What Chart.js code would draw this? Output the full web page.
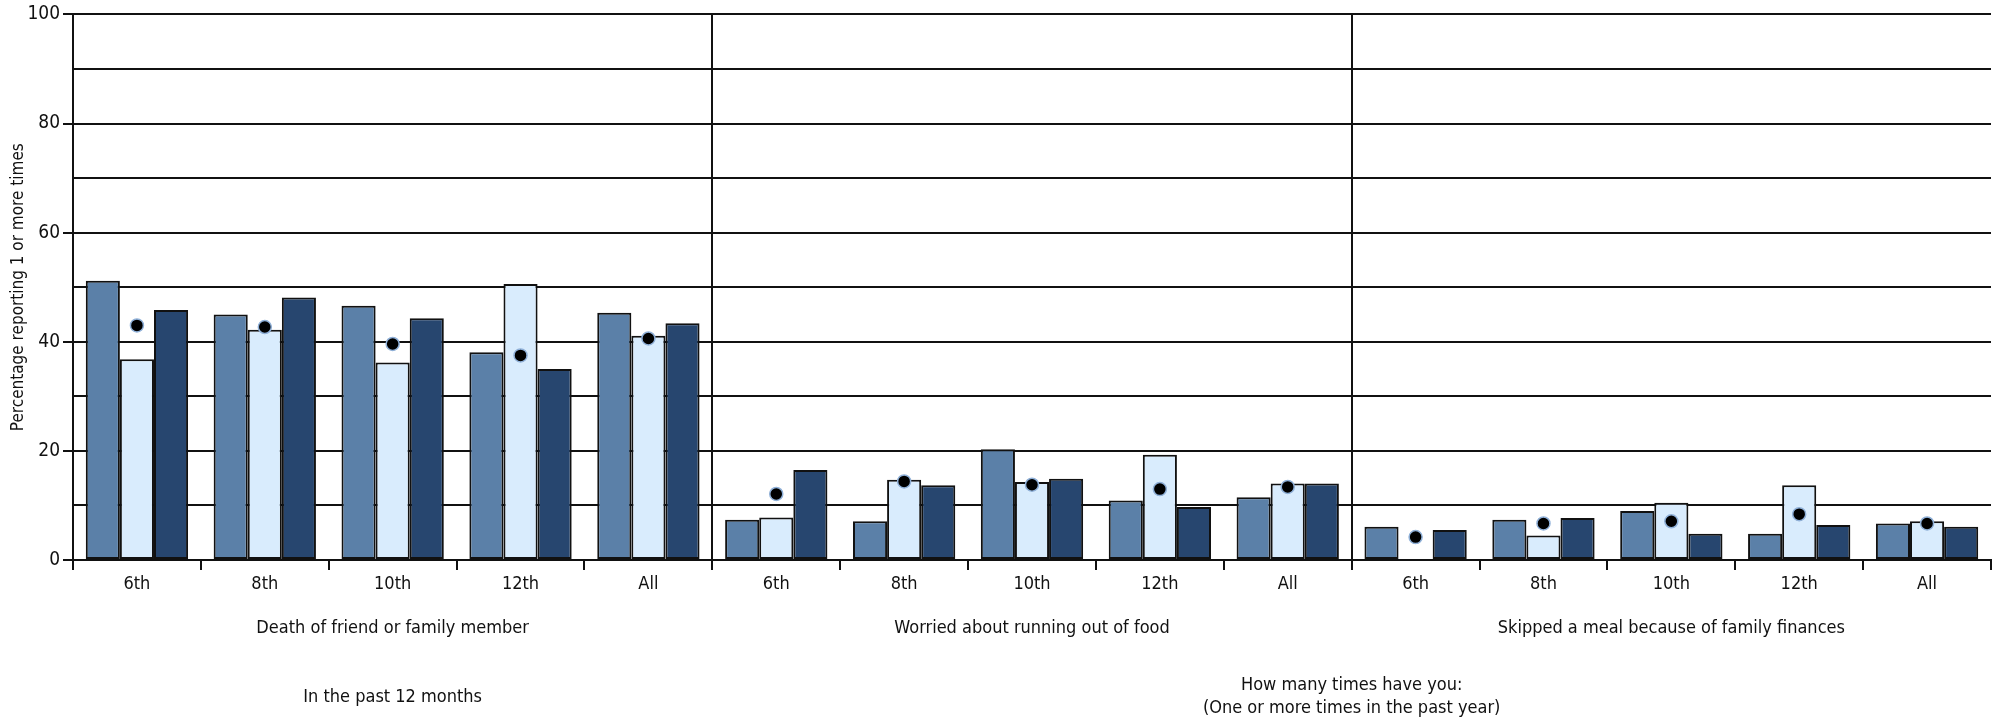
<!DOCTYPE html>
<html>
<head>
<meta charset="utf-8">
<script src="https://cdn.jsdelivr.net/npm/chart.js@4.4.1/dist/chart.umd.min.js"></script>
<style>
  html, body { margin: 0; padding: 0; background: #fff; }
  #wrap { width: 1999px; height: 719px; }
</style>
</head>
<body>
<div id="wrap"><canvas id="chart" width="1999" height="719"></canvas></div>
<script>
// === data ===
const grades = ['6th', '8th', '10th', '12th', 'All'];
const groupNames = ['Death of friend or family member', 'Worried about running out of food', 'Skipped a meal because of family finances'];
const labels = [...grades, ...grades, ...grades];

// three bar series (light steel blue, pale blue, navy), 5 grades x 3 groups
const seriesA = [51.2, 45.0, 46.6, 38.1, 45.3,   7.4, 7.1, 20.3, 10.9, 11.5,   6.1, 7.4, 9.0, 4.8, 6.7];
const seriesB = [36.8, 42.2, 36.2, 50.6, 41.1,   7.8, 14.7, 14.3, 19.3, 14.0,  null, 4.5, 10.5, 13.7, 7.1];
const seriesC = [45.8, 48.1, 44.3, 35.0, 43.4,  16.5, 13.7, 14.9, 9.7, 14.0,   5.5, 7.7, 4.8, 6.4, 6.1];
// black dots (overall)
const totals  = [43.0, 42.7, 39.6, 37.5, 40.6,  12.1, 14.4, 13.8, 13.0, 13.4,  4.2, 6.7, 7.1, 8.4, 6.7];

const yTicks = [0, 20, 40, 60, 80, 100];

const FONT = '"Liberation Sans Narrow", "DejaVu Sans Condensed", "Open Sans", sans-serif';

// texte sous l'axe x : noms des groupes + notes
const groupLabelPlugin = {
  id: 'groupLabels',
  afterDraw(chart) {
    const ctx = chart.ctx;
    const x = chart.scales.x;
    ctx.save();
    ctx.fillStyle = '#111';
    ctx.font = '18px ' + FONT;
    ctx.textAlign = 'center';
    ctx.textBaseline = 'middle';
    groupNames.forEach((name, g) => {
      ctx.fillText(name, x.getPixelForValue(g * 5 + 2), 628);
    });
    ctx.fillText('In the past 12 months', x.getPixelForValue(2), 697);
    const mid = (x.getPixelForValue(9) + x.getPixelForValue(10)) / 2;
    ctx.fillText('How many times have you:', mid, 685);
    ctx.fillText('(One or more times in the past year)', mid, 708);
    ctx.restore();
  }
};

const barStyle = { borderColor: '#111', borderWidth: 2, borderSkipped: false, order: 1 };

new Chart(document.getElementById('chart'), {
  type: 'bar',
  data: {
    labels: labels,
    datasets: [
      { label: 'A', data: seriesA, backgroundColor: '#5b80a8', ...barStyle },
      { label: 'B', data: seriesB, backgroundColor: '#d9ecfd', ...barStyle },
      { label: 'C', data: seriesC, backgroundColor: '#27466f', ...barStyle },
      {
        type: 'line', label: 'Total', data: totals, showLine: false, order: 0,
        pointRadius: 6.5, pointBackgroundColor: '#000', pointBorderColor: '#8fb0d8', pointBorderWidth: 1.5
      }
    ]
  },
  options: {
    responsive: false,
    animation: false,
    devicePixelRatio: 1,
    layout: { padding: { top: 14, right: 8, left: 0, bottom: 0 } },
    datasets: { bar: { categoryPercentage: 0.8, barPercentage: 1.0 } },
    plugins: { legend: { display: false }, tooltip: { enabled: false } },
    scales: {
      x: {
        grid: {
          offset: true,
          drawOnChartArea: true,
          color: ctx => (ctx.index % 5 === 0 ? '#111' : 'rgba(0,0,0,0)'),
          tickColor: '#111',
          lineWidth: 2,
          tickLength: 10
        },
        border: { display: true, color: '#111', width: 2 },
        ticks: { color: '#111', font: { family: FONT, size: 18 }, padding: 4, maxRotation: 0, autoSkip: false },
        afterFit: s => { s.height = 159; }
      },
      y: {
        min: 0, max: 100,
        grid: {
          color: '#111',
          lineWidth: 2,
          tickLength: 10,
          tickColor: ctx => (yTicks.includes(ctx.tick.value) ? '#111' : 'rgba(0,0,0,0)')
        },
        border: { display: true, color: '#111', width: 2 },
        ticks: {
          stepSize: 10,
          color: '#111',
          font: { family: FONT, size: 19 },
          padding: 3,
          callback: v => (yTicks.includes(v) ? v : '')
        },
        title: {
          display: true,
          text: 'Percentage reporting 1 or more times',
          color: '#111',
          font: { family: FONT, size: 17 },
          padding: { top: 8, bottom: 0 }
        },
        afterFit: s => { s.width = 73; }
      }
    }
  },
  plugins: [groupLabelPlugin]
});
</script>
</body>
</html>
